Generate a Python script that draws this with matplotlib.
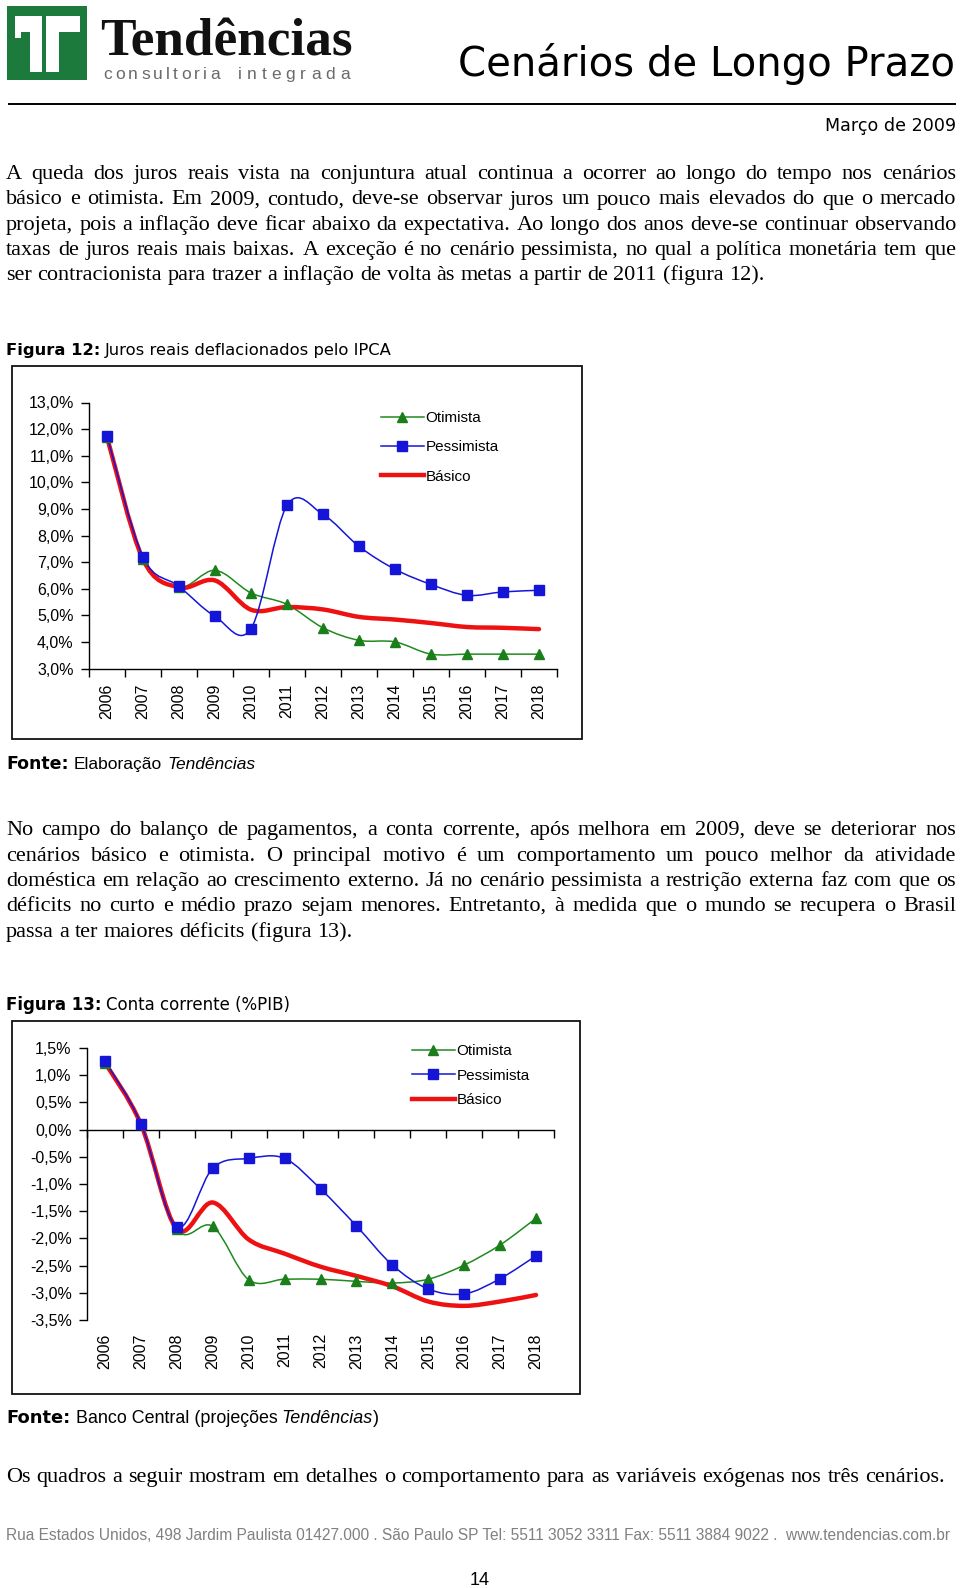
import numpy as np
import matplotlib
matplotlib.use('Agg')
import matplotlib.pyplot as plt
from matplotlib.patches import Rectangle, PathPatch
from matplotlib.path import Path
from matplotlib.lines import Line2D
from matplotlib.ticker import FixedLocator, FuncFormatter, NullFormatter
from matplotlib import font_manager

W, H = 960, 1588

# ---- dados ----
anos = ['2006', '2007', '2008', '2009', '2010', '2011', '2012',
        '2013', '2014', '2015', '2016', '2017', '2018']

juros_otimista = [11.70, 7.10, 6.05, 6.69, 5.84, 5.41, 4.53, 4.06, 4.00, 3.54, 3.54, 3.54, 3.54]
juros_pessimista = [11.75, 7.19, 6.09, 4.96, 4.50, 9.13, 8.79, 7.59, 6.73, 6.16, 5.75, 5.88, 5.94]
juros_basico = [11.70, 7.10, 6.05, 6.31, 5.21, 5.31, 5.22, 4.94, 4.84, 4.71, 4.56, 4.53, 4.48]
juros_ticks = [3, 4, 5, 6, 7, 8, 9, 10, 11, 12, 13]

cc_otimista = [1.23, 0.10, -1.83, -1.78, -2.76, -2.75, -2.75, -2.79, -2.82, -2.75, -2.49, -2.12, -1.63]
cc_pessimista = [1.26, 0.11, -1.79, -0.71, -0.53, -0.53, -1.09, -1.77, -2.49, -2.93, -3.02, -2.74, -2.32]
cc_basico = [1.23, 0.10, -1.83, -1.34, -2.02, -2.28, -2.52, -2.69, -2.88, -3.16, -3.24, -3.16, -3.04]
cc_ticks = [-3.5, -3.0, -2.5, -2.0, -1.5, -1.0, -0.5, 0.0, 0.5, 1.0, 1.5]

series = ['Otimista', 'Pessimista', 'Básico']

par1 = [
    "A queda dos juros reais vista na conjuntura atual continua a ocorrer ao longo do tempo nos cenários",
    "básico e otimista. Em 2009, contudo, deve-se observar juros um pouco mais elevados do que o mercado",
    "projeta, pois a inflação deve ficar abaixo da expectativa. Ao longo dos anos deve-se continuar observando",
    "taxas de juros reais mais baixas. A exceção é no cenário pessimista, no qual a política monetária tem que",
    "ser contracionista para trazer a inflação de volta às metas a partir de 2011 (figura 12).",
]
par2 = [
    "No campo do balanço de pagamentos, a conta corrente, após melhora em 2009, deve se deteriorar nos",
    "cenários básico e otimista. O principal motivo é um comportamento um pouco melhor da atividade",
    "doméstica em relação ao crescimento externo. Já no cenário pessimista a restrição externa faz com que os",
    "déficits no curto e médio prazo sejam menores. Entretanto, à medida que o mundo se recupera o Brasil",
    "passa a ter maiores déficits (figura 13).",
]
par3 = "Os quadros a seguir mostram em detalhes o comportamento para as variáveis exógenas nos três cenários."
rodape = "Rua Estados Unidos, 498 Jardim Paulista 01427.000 . São Paulo SP Tel: 5511 3052 3311 Fax: 5511 3884 9022 .  www.tendencias.com.br"

VERDE = '#1f8a1f'
AZUL = '#1515d8'
VERMELHO = '#ee1111'


def has_font(name):
    try:
        font_manager.findfont(font_manager.FontProperties(family=name), fallback_to_default=False)
        return True
    except Exception:
        return False


NARROW = 'Liberation Sans Narrow' if has_font('Liberation Sans Narrow') else 'Liberation Sans'
SANS = 'Liberation Sans'
SERIF = 'Liberation Serif'
VERD = 'DejaVu Sans'

fig = plt.figure(figsize=(W / 100, H / 100), dpi=100)
renderer = fig.canvas.get_renderer()


def fx(x):
    return x / W


def fy(y):
    return 1 - y / H


def width(t):
    return t.get_window_extent(renderer).width


def runs(x0, y, parts, x1=None):
    # parts: (texto, kwargs, espaço depois em em)
    objs = [fig.text(0, fy(y), t, va='baseline', **kw) for t, kw, _ in parts]
    gaps = [sp for _, _, sp in parts]

    def total():
        return sum(width(o) for o in objs) + sum(
            g * o.get_fontsize() * 100 / 72 for o, g in zip(objs, gaps))
    if x1 is not None:
        k = (x1 - x0) / total()
        for o in objs:
            o.set_fontsize(o.get_fontsize() * k)
    x = x0
    for o, g in zip(objs, gaps):
        o.set_x(fx(x))
        x += width(o) + g * o.get_fontsize() * 100 / 72
    return objs


def spread(tokens, x0, x1, y, kw):
    objs = [fig.text(0, fy(y), t, va='baseline', **kw) for t in tokens]
    ws = [width(o) for o in objs]
    gap = (x1 - x0 - sum(ws)) / (len(objs) - 1)
    x = x0
    for o, w in zip(objs, ws):
        o.set_x(fx(x))
        x += w + gap


# ---- cabeçalho ----
fig.add_artist(Rectangle((fx(7), fy(80)), 80 / W, 74 / H, transform=fig.transFigure,
                         color='#1b7a3c', lw=0))
for (a, b, c, d) in [(15, 16, 42, 32), (30, 16, 42, 72), (46, 16, 80, 32), (46, 16, 59, 72), (15, 32, 21, 38)]:
    fig.add_artist(Rectangle((fx(a), fy(d)), (c - a) / W, (d - b) / H, transform=fig.transFigure,
                             color='white', lw=0))
runs(100, 55, [("Tendências", dict(family=SERIF, fontweight='bold', fontsize=40, color='#111111'), 0)], x1=352)
spread(list("consultoria"), 103, 220, 79, dict(family=SANS, fontsize=12.5, color='#6a6a6a'))
spread(list("integrada"), 238, 350, 79, dict(family=SANS, fontsize=12.5, color='#6a6a6a'))
runs(458, 76, [("Cenários de Longo Prazo", dict(family=VERD, fontsize=30, color='black'), 0)], x1=955)
fig.add_artist(Line2D([fx(9), fx(955)], [fy(104), fy(104)], transform=fig.transFigure,
                      color='black', lw=1.4))
runs(825, 131, [("Março de 2009", dict(family=VERD, fontsize=12, color='black'), 0)], x1=955)

# ---- texto corrido ----
body = dict(family=SERIF, color='black')
nat = []
tmp = []
for ln in par1[:-1] + par2[:-1]:
    objs = [fig.text(0, 0, w, fontsize=15, **body) for w in ln.split()]
    tmp += objs
    nat.append((sum(width(o) for o in objs), len(objs) - 1))
for t in tmp:
    t.remove()
# tamanho tal que a linha cheia mais longa caiba com espaços normais
sp15 = 0.25 * 15 * 100 / 72
body_size = 15 * min(950 / (s + n * sp15) for s, n in nat)


def justify(line, y, last=False, x0=6, x1=956):
    words = line.split()
    objs = [fig.text(0, fy(y), w, fontsize=body_size, va='baseline', **body) for w in words]
    ws = [width(o) for o in objs]
    if last:
        gap = 0.25 * body_size * 100 / 72
    else:
        gap = (x1 - x0 - sum(ws)) / (len(words) - 1)
    x = x0
    for o, w in zip(objs, ws):
        o.set_x(fx(x))
        x += w + gap


for i, (ln, y) in enumerate(zip(par1, [179, 204.5, 230, 255, 280])):
    justify(ln, y, last=(i == len(par1) - 1))
for i, (ln, y) in enumerate(zip(par2, [835, 861, 886, 911, 937])):
    justify(ln, y, last=(i == len(par2) - 1))
justify(par3, 1482, x1=945)

# ---- legendas das figuras ----
bold_v = dict(family=VERD, fontweight='bold', fontsize=11, color='black')
reg_v = dict(family=VERD, fontsize=11, color='black')
runs(6, 355, [("Figura 12:", bold_v, 0.3), ("Juros reais deflacionados pelo IPCA", reg_v, 0)], x1=393)
runs(6, 769, [("Fonte:", bold_v, 0.3), ("Elaboração", dict(family=SANS, fontsize=11, color='black'), 0.28),
              ("Tendências", dict(family=SANS, fontstyle='italic', fontsize=11, color='black'), 0)], x1=255)
runs(6, 1010, [("Figura 13:", bold_v, 0.3), ("Conta corrente (%PIB)", reg_v, 0)], x1=291)
runs(6, 1423, [("Fonte:", bold_v, 0.3),
               ("Banco Central (projeções", dict(family=NARROW, fontsize=11, color='black'), 0.25),
               ("Tendências", dict(family=NARROW, fontstyle='italic', fontsize=11, color='black'), 0),
               (")", dict(family=NARROW, fontsize=11, color='black'), 0)], x1=377)

# ---- rodapé ----
runs(6, 1540, [(rodape, dict(family=NARROW, fontsize=11, color='#808080'), 0)], x1=952)
fig.text(fx(480), fy(1585), "14", ha='center', va='baseline', family=NARROW, fontsize=13, color='black')

# ---- molduras ----
for (a, b, c, d) in [(12, 366, 582, 739), (12, 1021, 580, 1394)]:
    fig.add_artist(Rectangle((fx(a), fy(d)), (c - a) / W, (d - b) / H, transform=fig.transFigure,
                             fill=False, ec='#111111', lw=1.3))


def smooth_path(xs, ys):
    pts = np.column_stack([xs, ys]).astype(float)
    n = len(pts)
    verts = [pts[0]]
    codes = [Path.MOVETO]
    for i in range(n - 1):
        p0 = pts[i - 1] if i > 0 else pts[i]
        p1, p2 = pts[i], pts[i + 1]
        p3 = pts[i + 2] if i + 2 < n else pts[i + 1]
        verts += [p1 + (p2 - p0) / 6, p2 - (p3 - p1) / 6, p2]
        codes += [Path.CURVE4] * 3
    return Path(verts, codes)


def pct(v, _):
    return ("%.1f%%" % v).replace('.', ',')


def chart(rect, otim, pess, basi, ticks, legend_xy, lspacing, zero_axis=False):
    ax = fig.add_axes(rect)
    x = np.arange(len(anos))
    ax.add_patch(PathPatch(smooth_path(x, otim), fill=False, ec=VERDE, lw=1.1, zorder=2))
    ax.add_patch(PathPatch(smooth_path(x, basi), fill=False, ec=VERMELHO, lw=3.2,
                           capstyle='round', joinstyle='round', zorder=3))
    ax.add_patch(PathPatch(smooth_path(x, pess), fill=False, ec=AZUL, lw=1.1, zorder=4))
    ax.plot(x, otim, ls='none', marker='^', ms=7.5, color='#1a7f1a', zorder=5, clip_on=False)
    ax.plot(x, pess, ls='none', marker='s', ms=6.5, color=AZUL, zorder=6, clip_on=False)

    ax.set_xlim(-0.5, len(anos) - 0.5)
    ax.set_ylim(ticks[0], ticks[-1])
    for s in ['top', 'right']:
        ax.spines[s].set_visible(False)
    ax.spines['left'].set_linewidth(1.0)
    ax.spines['bottom'].set_linewidth(1.0)
    ax.yaxis.set_major_locator(FixedLocator(ticks))
    ax.yaxis.set_major_formatter(FuncFormatter(pct))
    ax.tick_params(axis='y', direction='out', length=6, width=1, pad=5, labelsize=11.5)
    for lab in ax.get_yticklabels():
        lab.set_family(SANS)

    ax.xaxis.set_major_locator(FixedLocator(np.arange(len(anos) + 1) - 0.5))
    ax.xaxis.set_major_formatter(NullFormatter())
    ax.tick_params(axis='x', which='major', direction='out', length=6, width=1)
    if zero_axis:
        ax.spines['bottom'].set_position(('data', 0))
        sec = ax.secondary_xaxis('bottom')
        sec.spines['bottom'].set_visible(False)
        sec.set_xticks(x)
        sec.set_xticklabels(anos, rotation=90, family=SANS, fontsize=11.5)
        sec.tick_params(length=0, pad=9.5)
    else:
        ax.xaxis.set_minor_locator(FixedLocator(x))
        ax.set_xticks(x, anos, minor=True, rotation=90, family=SANS, fontsize=11.5)
        ax.tick_params(axis='x', which='minor', length=0, pad=11)
    ax.patch.set_visible(False)

    handles = [Line2D([], [], color=VERDE, lw=1.1, marker='^', ms=7.5, mfc='#1a7f1a', mec='#1a7f1a'),
               Line2D([], [], color=AZUL, lw=1.1, marker='s', ms=6.5),
               Line2D([], [], color=VERMELHO, lw=3.2)]
    ax.legend(handles, series, loc='upper left', bbox_to_anchor=(fx(legend_xy[0]), fy(legend_xy[1])),
              bbox_transform=fig.transFigure, frameon=False, handlelength=2.8, handletextpad=0.1,
              labelspacing=lspacing, borderpad=0, borderaxespad=0, numpoints=1,
              prop=dict(family=SANS, size=11))
    return ax


chart([fx(89), fy(668.5), (557 - 89) / W, (668.5 - 402.5) / H],
      juros_otimista, juros_pessimista, juros_basico, juros_ticks, (381, 411), 1.0)
chart([fx(87), fy(1320), (554 - 87) / W, (1320 - 1048) / H],
      cc_otimista, cc_pessimista, cc_basico, cc_ticks, (412, 1044), 0.7, zero_axis=True)

fig.savefig('out.png', dpi=100)
